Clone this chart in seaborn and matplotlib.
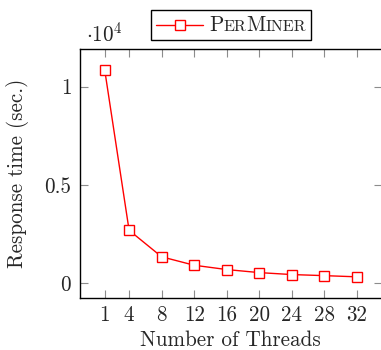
import matplotlib
matplotlib.use("Agg")
import matplotlib.pyplot as plt
import seaborn as sns
import pandas as pd
from matplotlib.lines import Line2D
from matplotlib.offsetbox import AnchoredOffsetbox, DrawingArea, HPacker, TextArea
from matplotlib.ticker import FixedLocator, FixedFormatter

# data
threads = [1, 4, 8, 12, 16, 20, 24, 28, 32]
response_time = [10850, 2680, 1330, 900, 680, 525, 425, 370, 310]
y_ticks = [0, 5000, 10000]
y_tick_labels = ["0", "0.5", "1"]

sns.set_theme(style="white")
plt.rcParams["font.family"] = ["cmr10", "DejaVu Serif"]
plt.rcParams["mathtext.fontset"] = "cm"
plt.rcParams["axes.unicode_minus"] = False
plt.rcParams["axes.formatter.use_mathtext"] = True

FS = 15.2
RED = "#ff0000"

df = pd.DataFrame({"threads": threads, "time": response_time})

fig = plt.figure(figsize=(3.81, 3.5), dpi=100)
ax = fig.add_axes([79.5 / 381, 1 - 297.5 / 350, (382 - 79.5) / 381, (297.5 - 49.3) / 350])

sns.lineplot(
    data=df, x="threads", y="time", ax=ax,
    color=RED, linewidth=1.0, marker="s", markersize=6.8,
    markerfacecolor="white", markeredgecolor=RED, markeredgewidth=1.0,
    legend=False,
)

ax.set_xlim(-2.1, 35.1)
ax.set_ylim(-744, 11904)
ax.xaxis.set_major_locator(FixedLocator(threads))
ax.xaxis.set_major_formatter(FixedFormatter([str(t) for t in threads]))
ax.yaxis.set_major_locator(FixedLocator(y_ticks))
ax.yaxis.set_major_formatter(FixedFormatter(y_tick_labels))

ax.tick_params(
    axis="both", which="major", direction="in", length=5.8, width=0.8,
    color="#8c8c8c", labelsize=FS, pad=6,
    top=True, right=True, bottom=True, left=True,
)
for sp in ax.spines.values():
    sp.set_color("black")
    sp.set_linewidth(1.0)

ax.set_xlabel("Number of Threads", fontsize=FS, labelpad=3.5)
ax.set_ylabel("Response time (sec.)", fontsize=FS, labelpad=11)

# pgfplots-style exponent above the y axis
fig.text(86 / 381, 1 - 41 / 350, r"$\cdot10^{4}$", fontsize=FS, va="baseline", ha="left")

# legend with small-caps style label
da = DrawingArea(34, 10, 0, 0)
da.add_artist(Line2D([0, 34], [5, 5], color=RED, linewidth=1.0))
da.add_artist(Line2D([17], [5], marker="s", markersize=6.8, markerfacecolor="white",
                     markeredgecolor=RED, markeredgewidth=1.0, linestyle="none"))
small = FS * 0.76
parts = [
    TextArea("P", textprops=dict(fontsize=FS)),
    TextArea("ER", textprops=dict(fontsize=small)),
    TextArea("M", textprops=dict(fontsize=FS)),
    TextArea("INER", textprops=dict(fontsize=small)),
]
label = HPacker(children=parts, align="baseline", pad=0, sep=0)
box = HPacker(children=[da, label], align="center", pad=0, sep=4)
legend = AnchoredOffsetbox(
    loc="center", child=box, pad=0.35, borderpad=0, frameon=True,
    bbox_to_anchor=(231 / 381, 1 - 25 / 350), bbox_transform=fig.transFigure,
)
legend.patch.set_edgecolor("black")
legend.patch.set_linewidth(1.0)
legend.patch.set_boxstyle("square", pad=0)
fig.add_artist(legend)

fig.savefig("out.png", dpi=100)
